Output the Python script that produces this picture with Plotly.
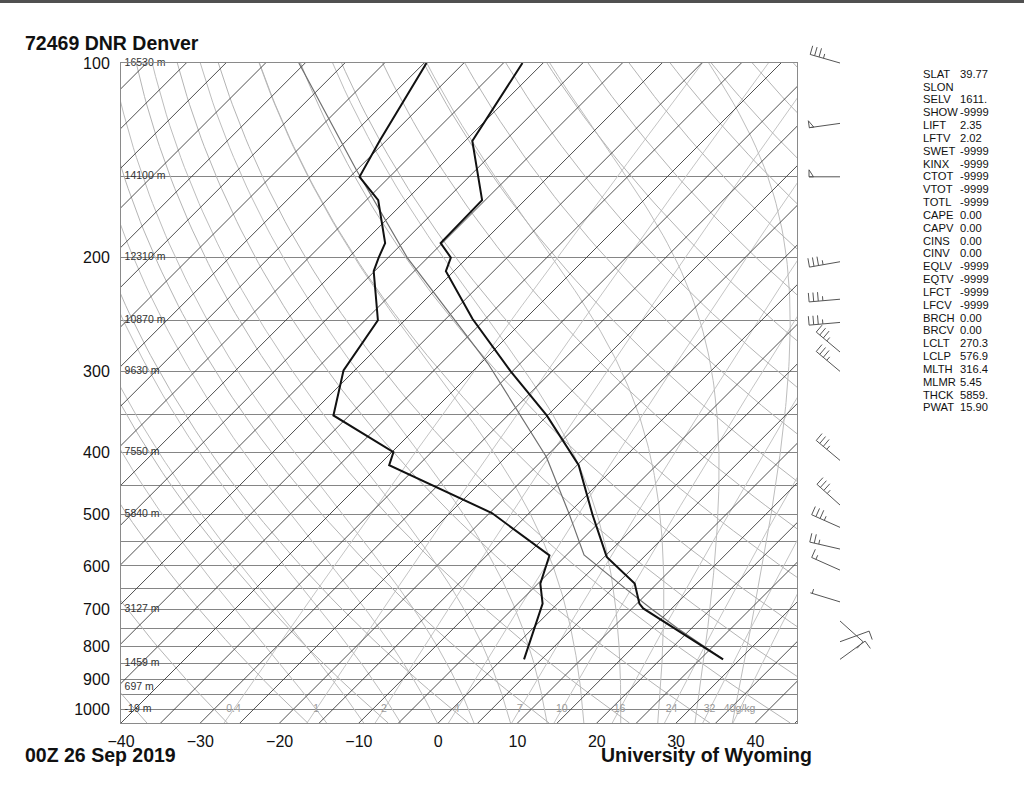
import numpy as np
import plotly.graph_objects as go

# ---------------- data ----------------
station_title = "72469 DNR Denver"
time_label = "00Z 26 Sep 2019"
credit = "University of Wyoming"

temp_p = [100, 132, 163, 190, 200, 210, 249, 300, 351, 409, 419, 500, 581, 639, 686, 698, 837]
temp_c = [-72.6, -69.1, -60.4, -60.2, -57.1, -56.0, -46.6, -35.2, -25.1, -16.3, -14.8, -6.8, 0.3, 7.2, 10.3, 11.4, 27.9]

dwpt_p = [100, 132, 150, 163, 190, 200, 210, 250, 299, 351, 400, 419, 497, 578, 639, 686, 837]
dwpt_c = [-84.7, -80.8, -78.8, -73.5, -67.2, -66.2, -65.1, -58.4, -56.4, -52.0, -39.8, -38.7, -19.7, -7.1, -4.7, -1.9, 2.8]

parcel_p = [837, 750, 700, 650, 577, 498, 407, 349, 292, 200, 169, 146, 100]
parcel_c = [27.9, 18.3, 12.6, 6.6, -2.8, -9.9, -19.9, -28.7, -39.0, -62.6, -72.0, -80.2, -100.8]

height_p = [100, 150, 200, 250, 300, 400, 500, 700, 850, 925, 1000]
height_lbl = ["16530 m", "14100 m", "12310 m", "10870 m", "9630 m", "7550 m",
              "5840 m", "3127 m", "1459 m", "697 m", "-19 m"]

mixr_gkg = [0.4, 1, 2, 4, 7, 10, 16, 24, 32, 40]
mixr_lbl = ["0.4", "1", "2", "4", "7", "10", "16", "24", "32", "40g/kg"]

wind_p = [100, 124, 150, 203, 232, 252, 280, 300, 412, 483, 523, 565, 609, 682, 730, 786, 837]
wind_dir = [286, 262, 270, 260, 265, 265, 310, 310, 310, 312, 294, 283, 294, 287, 132, 70, 54]
wind_kt = [35, 50, 50, 35, 35, 35, 35, 35, 35, 35, 35, 25, 15, 5, 10, 10, 10]

index_names = ["SLAT", "SLON", "SELV", "SHOW", "LIFT", "LFTV", "SWET", "KINX", "CTOT",
               "VTOT", "TOTL", "CAPE", "CAPV", "CINS", "CINV", "EQLV", "EQTV", "LFCT",
               "LFCV", "BRCH", "BRCV", "LCLT", "LCLP", "MLTH", "MLMR", "THCK", "PWAT"]
index_vals = ["39.77", "", "1611.", "-9999", "2.35", "2.02", "-9999", "-9999", "-9999",
              "-9999", "-9999", "0.00", "0.00", "0.00", "0.00", "-9999", "-9999", "-9999",
              "-9999", "0.00", "0.00", "270.3", "576.9", "316.4", "5.45", "5859.", "15.90"]

x_ticks = [-40, -30, -20, -10, 0, 10, 20, 30, 40]
y_labels = [100, 200, 300, 400, 500, 600, 700, 800, 900, 1000]

# ---------------- geometry ----------------
W, H = 1024, 790
PL, PR, PT, PB = 121, 797, 63, 723
P_BOT, P_TOP = 1050.0, 100.0
X_MIN = -40.0
PX_PER_C = 7.93
X_MAX = X_MIN + (PR - PL) / PX_PER_C
PX_PER_DEC = (PB - PT) / np.log10(P_BOT / P_TOP)
SKEW = PX_PER_DEC / PX_PER_C

FONT = "Liberation Sans, Arial, Helvetica, sans-serif"


def skew_x(t, p):
    return np.asarray(t, float) + SKEW * np.log10(P_BOT / np.asarray(p, float))


def p_to_py(p):
    return PT + np.log10(np.asarray(p, float) / P_TOP) * PX_PER_DEC


# thermodynamics for the background diagram
Rd, Cp, Lv, EPS = 287.04, 1005.7, 2.501e6, 0.622


def es(tc):
    return 6.112 * np.exp(17.67 * tc / (tc + 243.5))


def t_from_e(e):
    a = np.log(e / 6.112)
    return 243.5 * a / (17.67 - a)


def dtdp(tk, p):
    r = EPS * es(tk - 273.15) / (p - es(tk - 273.15))
    return (Rd * tk + Lv * r) / (Cp + Lv * Lv * r * EPS / (Rd * tk * tk)) / p


def moist(t0c, p0=1000.0):
    up = np.arange(p0, P_TOP - 0.1, -5.0)
    down = np.arange(p0, P_BOT + 0.1, 5.0)
    res = {}
    for arr in (up, down):
        tk = t0c + 273.15
        out = [tk]
        for i in range(1, len(arr)):
            p, h = arr[i - 1], arr[i] - arr[i - 1]
            k1 = dtdp(tk, p)
            k2 = dtdp(tk + 0.5 * h * k1, p + 0.5 * h)
            k3 = dtdp(tk + 0.5 * h * k2, p + 0.5 * h)
            k4 = dtdp(tk + h * k3, p + h)
            tk = tk + h * (k1 + 2 * k2 + 2 * k3 + k4) / 6
            out.append(tk)
        res[arr[-1] < p0] = (arr, np.array(out) - 273.15)
    pu, tu = res[True]
    pd, td = res[False]
    return np.concatenate([pd[::-1], pu[1:]]), np.concatenate([td[::-1], tu[1:]])


def joined(lines):
    xs, ys = [], []
    for x, y in lines:
        xs += list(x) + [None]
        ys += list(y) + [None]
    return xs, ys


fig = go.Figure()

pp = np.geomspace(P_BOT, P_TOP, 80)

# mixing ratio lines
mr_lines = []
for w in mixr_gkg:
    e = w * pp / (622.0 + w)
    mr_lines.append((skew_x(t_from_e(e), pp), pp))
x, y = joined(mr_lines)
fig.add_trace(go.Scatter(x=x, y=y, mode="lines", line=dict(color="#c4c4c4", width=1),
                         hoverinfo="skip", showlegend=False))

# moist adiabats (start temperatures at 1000 hPa)
ma_lines = []
for k in range(-7, 5):
    p_m, t_m = moist(16.5 + 4.8 * k)
    ma_lines.append((skew_x(t_m, p_m), p_m))
x, y = joined(ma_lines)
fig.add_trace(go.Scatter(x=x, y=y, mode="lines", line=dict(color="#bdbdbd", width=1),
                         hoverinfo="skip", showlegend=False))

# dry adiabats, every 10 C of potential temperature
da_lines = []
for th_c in range(-40, 200, 10):
    t = (th_c + 273.15) * (pp / 1000.0) ** 0.2857 - 273.15
    da_lines.append((skew_x(t, pp), pp))
x, y = joined(da_lines)
fig.add_trace(go.Scatter(x=x, y=y, mode="lines", line=dict(color="#b4b4b4", width=1),
                         hoverinfo="skip", showlegend=False))

# isotherms
it_lines = []
for t in range(-130, 50, 5):
    it_lines.append((skew_x([t, t], [P_BOT, P_TOP]), [P_BOT, P_TOP]))
x, y = joined(it_lines)
fig.add_trace(go.Scatter(x=x, y=y, mode="lines", line=dict(color="#3c3c3c", width=0.9),
                         hoverinfo="skip", showlegend=False))

# parcel path
fig.add_trace(go.Scatter(x=skew_x(parcel_c, parcel_p), y=parcel_p, mode="lines",
                         line=dict(color="#707070", width=1.2), hoverinfo="skip", showlegend=False))

# dewpoint and temperature
fig.add_trace(go.Scatter(x=skew_x(dwpt_c, dwpt_p), y=dwpt_p, mode="lines",
                         line=dict(color="#111111", width=2), showlegend=False))
fig.add_trace(go.Scatter(x=skew_x(temp_c, temp_p), y=temp_p, mode="lines",
                         line=dict(color="#111111", width=2), showlegend=False))

# height labels
fig.add_trace(go.Scatter(x=[X_MIN + 0.45] * len(height_p), y=height_p, mode="text",
                         text=height_lbl, textposition="middle right", cliponaxis=False,
                         textfont=dict(family=FONT, size=10.5, color="#333333"),
                         hoverinfo="skip", showlegend=False))

# mixing ratio labels at 1000 hPa
mx = [float(skew_x(t_from_e(w * 1000.0 / (622.0 + w)), 1000.0)) for w in mixr_gkg]
fig.add_trace(go.Scatter(x=mx, y=[1000] * len(mx), mode="text", text=mixr_lbl,
                         textposition="middle center",
                         textfont=dict(family=FONT, size=10.5, color="#9a9a9a"),
                         hoverinfo="skip", showlegend=False))

# ---------------- wind barbs (pixel overlay) ----------------
BARB_X = 840.0


def barb(x0, y0, direction, speed, L=31.0, flen=9.0, fsp=4.6):
    d = np.radians(direction)
    ux, uy = np.sin(d), -np.cos(d)
    nx, ny = -uy, ux
    tx, ty = x0 + L * ux, y0 + L * uy
    segs = [[(x0, y0), (tx, ty)]]
    spd = int(round(speed / 5.0)) * 5
    flags, rem = divmod(spd, 50)
    full, rem = divmod(rem, 10)
    half = rem >= 5
    pos = 0.0
    for _ in range(flags):
        a = (tx - pos * ux, ty - pos * uy)
        b = (tx - (pos + 4.5) * ux, ty - (pos + 4.5) * uy)
        apex = (a[0] + 7.0 * nx, a[1] + 7.0 * ny)
        segs.append([a, apex, b, a])
        pos += 6.0
    for _ in range(full):
        a = (tx - pos * ux, ty - pos * uy)
        segs.append([a, (a[0] + flen * nx, a[1] + flen * ny)])
        pos += fsp
    if half:
        if spd < 10:
            pos += 2.0
        a = (tx - pos * ux, ty - pos * uy)
        segs.append([a, (a[0] + 0.5 * flen * nx, a[1] + 0.5 * flen * ny)])
    return segs


bx, by = [], []
for p, dd, s in zip(wind_p, wind_dir, wind_kt):
    for seg in barb(BARB_X, float(p_to_py(p)), dd, s):
        bx += [q[0] for q in seg] + [None]
        by += [q[1] for q in seg] + [None]
fig.add_trace(go.Scatter(x=bx, y=by, xaxis="x2", yaxis="y2", mode="lines",
                         line=dict(color="#555555", width=1), hoverinfo="skip", showlegend=False))

# index table
row_y = [75 + i * 12.83 for i in range(len(index_names))]
fig.add_trace(go.Scatter(x=[923] * len(index_names), y=row_y, xaxis="x2", yaxis="y2",
                         mode="text", text=index_names, textposition="middle right",
                         textfont=dict(family=FONT, size=11.2, color="#111111"),
                         hoverinfo="skip", showlegend=False))
fig.add_trace(go.Scatter(x=[960] * len(index_vals), y=row_y, xaxis="x2", yaxis="y2",
                         mode="text", text=index_vals, textposition="middle right",
                         textfont=dict(family=FONT, size=11.2, color="#111111"),
                         hoverinfo="skip", showlegend=False))

# titles
fig.add_trace(go.Scatter(x=[25, 25, 601], y=[45, 757, 757], xaxis="x2", yaxis="y2",
                         mode="text",
                         text=["<b>" + station_title + "</b>", "<b>" + time_label + "</b>",
                               "<b>" + credit + "</b>"],
                         textposition="middle right",
                         textfont=dict(family=FONT, size=19.5, color="#111111"),
                         hoverinfo="skip", showlegend=False))

y_ticks = list(range(100, 1051, 50))
y_text = [str(v) if v in y_labels else "" for v in y_ticks]

fig.update_layout(
    template="none",
    width=W, height=H, autosize=False,
    margin=dict(l=0, r=0, t=0, b=0, pad=0, autoexpand=False),
    paper_bgcolor="white", plot_bgcolor="rgba(0,0,0,0)",
    font=dict(family=FONT, color="#111111"),
    showlegend=False,
    xaxis=dict(domain=[PL / W, PR / W], range=[X_MIN, X_MAX], anchor="y",
               tickvals=x_ticks, showgrid=False, zeroline=False, automargin=False,
               showline=True, mirror=True, linecolor="#8a8a8a", linewidth=1,
               ticks="outside", ticklen=4, tickcolor="rgba(0,0,0,0)",
               tickfont=dict(family=FONT, size=16, color="#111111")),
    yaxis=dict(type="log", domain=[1 - PB / H, 1 - PT / H],
               range=[np.log10(P_BOT), np.log10(P_TOP)], anchor="x",
               tickvals=y_ticks, ticktext=y_text, showgrid=True, automargin=False,
               gridcolor="#858585", gridwidth=1, zeroline=False,
               showline=True, mirror=True, linecolor="#8a8a8a", linewidth=1,
               ticks="outside", ticklen=7, tickcolor="rgba(0,0,0,0)",
               tickfont=dict(family=FONT, size=16, color="#111111")),
    xaxis2=dict(domain=[0, 1], range=[0, W], anchor="y2", visible=False,
                fixedrange=True, automargin=False),
    yaxis2=dict(domain=[0, 1], range=[H, 0], anchor="x2", visible=False,
                fixedrange=True, automargin=False),
    shapes=[dict(type="rect", xref="paper", yref="paper", x0=0, x1=1,
                 y0=1 - 3.0 / H, y1=1, fillcolor="#505050", line=dict(width=0))],
)

fig.write_html("out.html", config={"displayModeBar": False, "responsive": False},
               post_script="document.body.style.margin='0';document.body.style.overflow='hidden';")
